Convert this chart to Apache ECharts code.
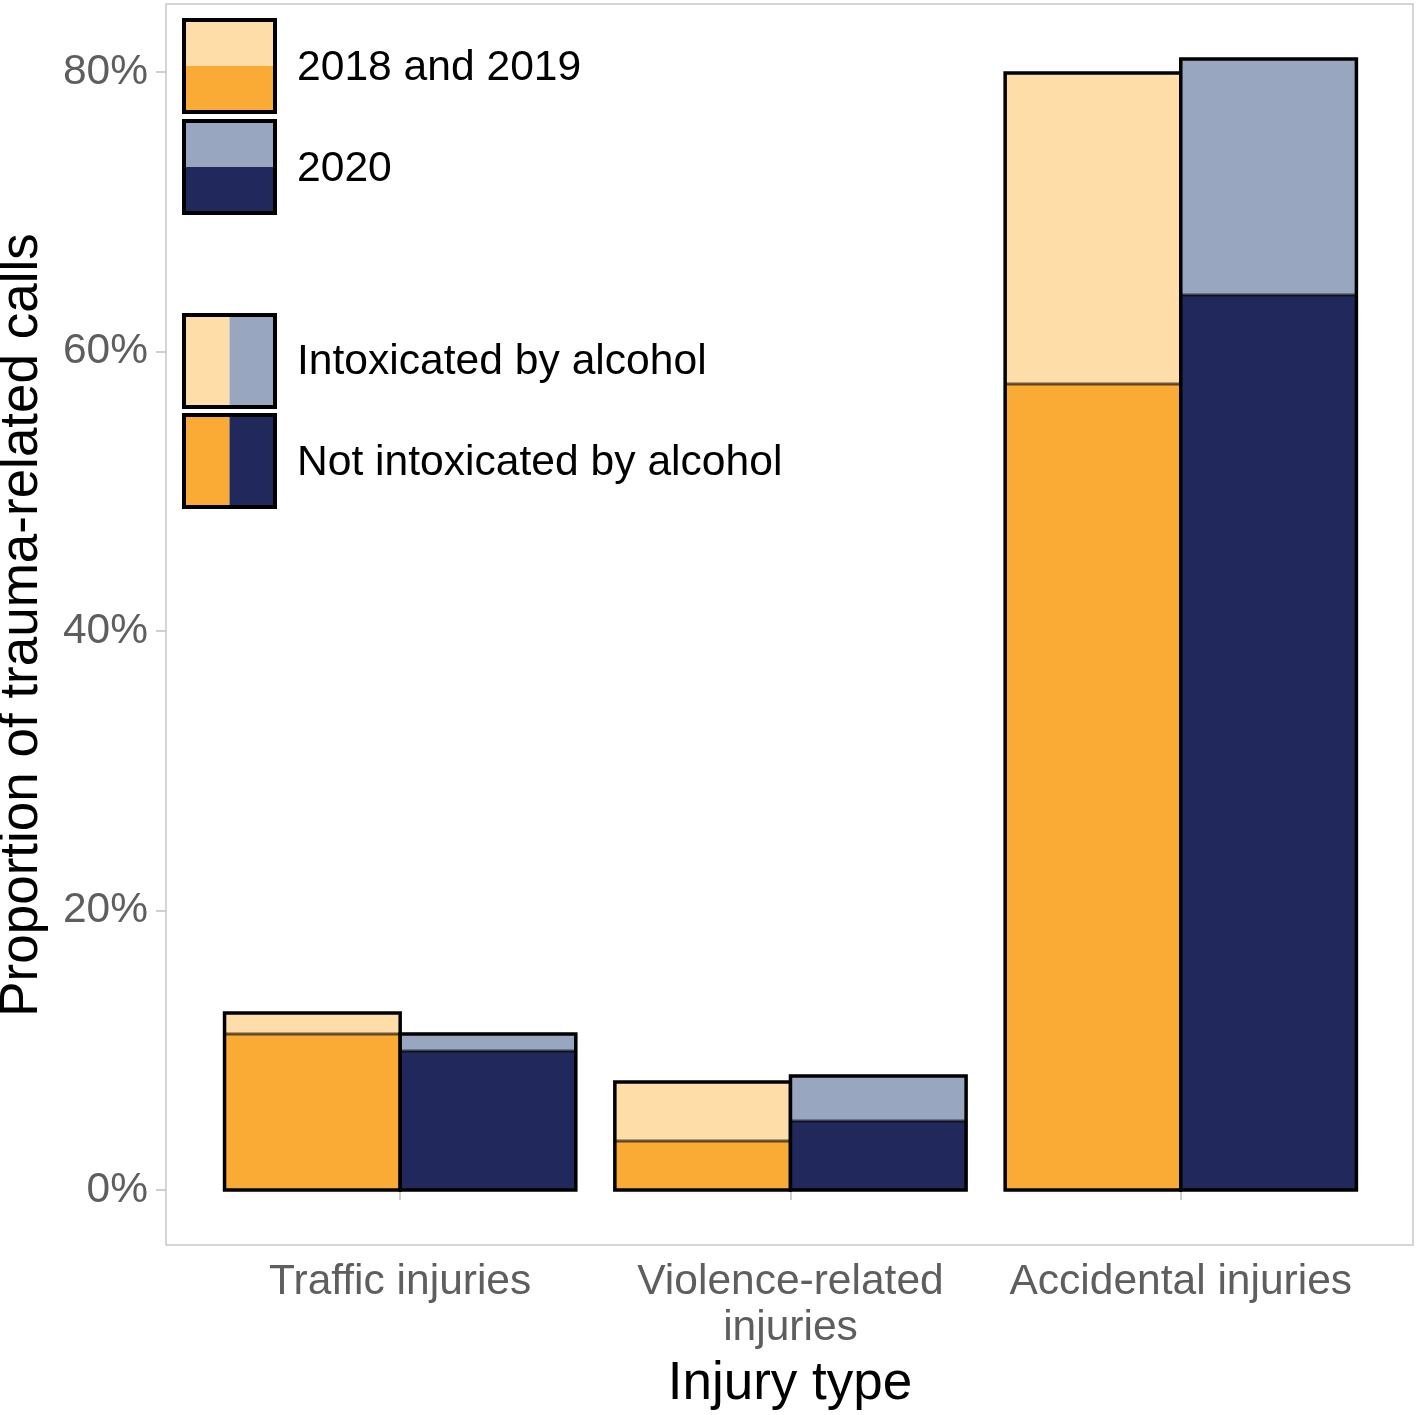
<!DOCTYPE html>
<html><head><meta charset="utf-8">
<script src="https://cdn.jsdelivr.net/npm/echarts@6/dist/echarts.min.js"></script>
<style>html,body{margin:0;padding:0;background:#fff}#c{width:1418px;height:1415px}</style>
</head><body><div id="c"></div>
<script>
// ---- data (percent of trauma-related calls) ----
const categories = ['Traffic injuries', 'Violence-related\ninjuries', 'Accidental injuries'];
const total2018_19 = [12.67, 7.73, 79.93];      // total (intoxicated + not intoxicated)
const notIntox2018_19 = [11.16, 3.50, 57.67];   // not intoxicated by alcohol
const total2020 = [11.16, 8.16, 80.93];
const notIntox2020 = [9.95, 4.94, 64.04];
const yTicks = [0, 20, 40, 60, 80];
const legendYears = ['2018 and 2019', '2020'];
const legendStatus = ['Intoxicated by alcohol', 'Not intoxicated by alcohol'];

const C = {
  lightOrange: '#FEDDA9', orange: '#FAAB36',
  lightBlue: '#98A6C0', navy: '#21295C'
};
const FONT = "'Liberation Sans', Arial, Helvetica, sans-serif";

function makeRender(offsetStart, fillIntox, fillNot) {
  return function (params, api) {
    const c = api.value(0), tot = api.value(1), ni = api.value(2);
    const x0 = c + offsetStart, x1 = x0 + 0.45;
    const pTL = api.coord([x0, tot]), pBR = api.coord([x1, 0]), pMid = api.coord([x0, ni]);
    const left = pTL[0], right = pBR[0], top = pTL[1], bottom = pBR[1], mid = pMid[1];
    return {
      type: 'group', children: [
        { type: 'rect', shape: { x: left, y: top, width: right - left, height: mid - top }, style: { fill: fillIntox } },
        { type: 'rect', shape: { x: left, y: mid, width: right - left, height: bottom - mid }, style: { fill: fillNot } },
        { type: 'line', shape: { x1: left, y1: mid, x2: right, y2: mid }, style: { stroke: 'rgba(0,0,0,0.6)', lineWidth: 3 } },
        { type: 'rect', shape: { x: left, y: top, width: right - left, height: bottom - top }, style: { fill: null, stroke: '#000', lineWidth: 3.5 } }
      ]
    };
  };
}

const data1819 = total2018_19.map((t, i) => [i + 1, t, notIntox2018_19[i]]);
const data2020 = total2020.map((t, i) => [i + 1, t, notIntox2020[i]]);

// legend graphics
const lg = [];
function keyBox(y, top, bottom, split) {
  const x = 184, w = 91, h = 92;
  if (split === 'h') {
    lg.push({ type: 'rect', shape: { x: x, y: y, width: w, height: h / 2 }, style: { fill: top } });
    lg.push({ type: 'rect', shape: { x: x, y: y + h / 2, width: w, height: h / 2 }, style: { fill: bottom } });
  } else {
    lg.push({ type: 'rect', shape: { x: x, y: y, width: w / 2, height: h }, style: { fill: top } });
    lg.push({ type: 'rect', shape: { x: x + w / 2, y: y, width: w / 2, height: h }, style: { fill: bottom } });
  }
  lg.push({ type: 'rect', shape: { x: x, y: y, width: w, height: h }, style: { fill: null, stroke: '#000', lineWidth: 4 } });
}
keyBox(20, C.lightOrange, C.orange, 'h');
keyBox(121, C.lightBlue, C.navy, 'h');
keyBox(315, C.lightOrange, C.lightBlue, 'v');
keyBox(415, C.orange, C.navy, 'v');
const legTexts = [[legendYears[0], 68], [legendYears[1], 169], [legendStatus[0], 362], [legendStatus[1], 463]];
legTexts.forEach(([t, y]) => lg.push({
  type: 'text', x: 297, y: y,
  style: { text: t, fill: '#000', font: '42.6px ' + FONT, textAlign: 'left', textVerticalAlign: 'middle' }
}));
lg.push({ type: 'text', x: 790, y: 1384, style: { text: 'Injury type', fill: '#000', font: '53px ' + FONT, textAlign: 'center', textVerticalAlign: 'middle' } });
lg.push({ type: 'text', x: 22, y: 625, rotation: Math.PI / 2, style: { text: 'Proportion of trauma-related calls', fill: '#000', font: '53px ' + FONT, textAlign: 'center', textVerticalAlign: 'middle' } });

const chart = echarts.init(document.getElementById('c'), null, { renderer: 'canvas' });
chart.setOption({
  animation: false,
  backgroundColor: '#fff',
  grid: { left: 166, right: 5, top: 4, bottom: 170, show: true, borderColor: '#c8c8c8', borderWidth: 1.5, backgroundColor: 'transparent' },
  xAxis: {
    type: 'value', min: 0.4, max: 3.595,
    splitLine: { show: false },
    axisLine: { show: false },
    axisTick: { show: true, customValues: [1, 2, 3], length: 10, lineStyle: { color: '#c0c0c0', width: 1.5 } },
    axisLabel: {
      customValues: [1, 2, 3], formatter: v => categories[Math.round(v) - 1],
      fontSize: 42.5, fontFamily: FONT, color: '#5e5e5e', margin: 14, lineHeight: 46
    }
  },
  yAxis: {
    type: 'value', min: -3.94, max: 84.87,
    splitLine: { show: false },
    axisLine: { show: false },
    axisTick: { show: true, customValues: yTicks, length: 10, lineStyle: { color: '#c0c0c0', width: 1.5 } },
    axisLabel: { customValues: yTicks, formatter: v => v + '%', fontSize: 42.5, fontFamily: FONT, color: '#5e5e5e', margin: 18 }
  },
  series: [
    { type: 'custom', name: '2018 and 2019', renderItem: makeRender(-0.45, C.lightOrange, C.orange), encode: { x: 0, y: 1 }, data: data1819 },
    { type: 'custom', name: '2020', renderItem: makeRender(0, C.lightBlue, C.navy), encode: { x: 0, y: 1 }, data: data2020 }
  ],
  graphic: lg
});
</script></body></html>
